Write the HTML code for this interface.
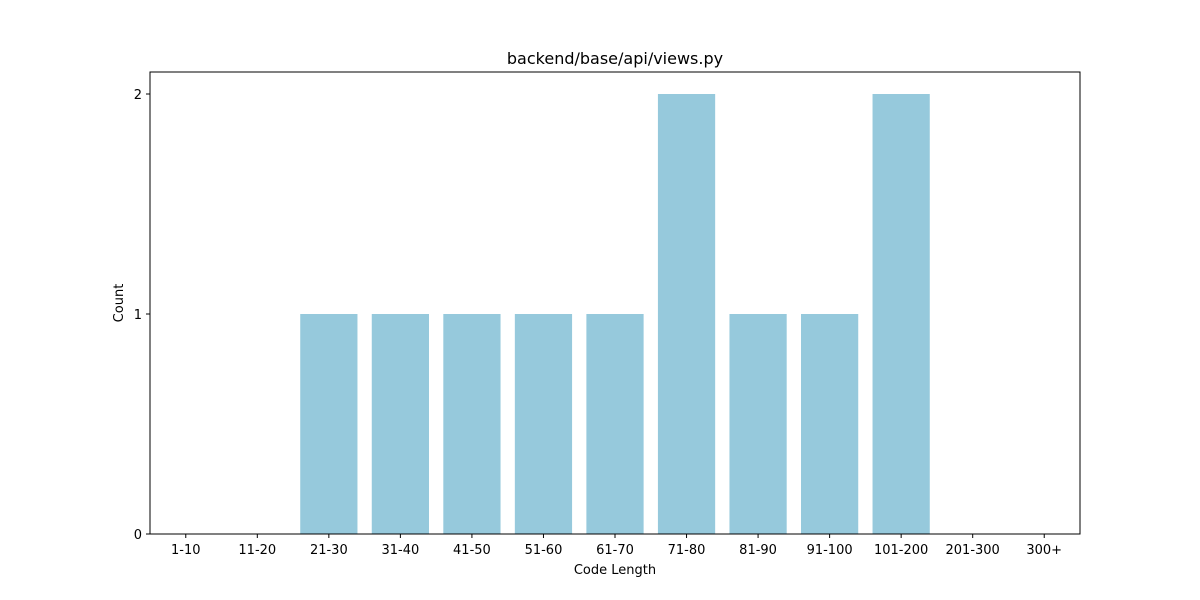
<!DOCTYPE html>
<html><head><meta charset="utf-8"><style>
html,body{margin:0;padding:0;background:#fff}
svg{display:block;font-family:"DejaVu Sans","Liberation Sans",sans-serif}
</style></head><body>
<svg id="chart" width="1200" height="600" viewBox="0 0 1200 600">
<rect width="1200" height="600" fill="#fff"/>
<text x="615" y="64" font-size="16" text-anchor="middle">backend/base/api/views.py</text>
<g id="bars"></g>
<g id="xticks"></g>
<g id="yticks"></g>
<rect x="150" y="72" width="930" height="462" fill="none" stroke="#000" stroke-width="1"/>
<text x="615" y="574" font-size="13" text-anchor="middle">Code Length</text>
<text x="123" y="303" font-size="13" text-anchor="middle" transform="rotate(-90 123 303)">Count</text>
</svg>
<script>
const categories = ["1-10","11-20","21-30","31-40","41-50","51-60","61-70","71-80","81-90","91-100","101-200","201-300","300+"];
const counts = [0,0,1,1,1,1,1,2,1,1,2,0,0];
const yTicks = [0,1,2];
const NS = "http://www.w3.org/2000/svg";
const L=150,R=1080,T=72,B=534,yMax=2.1;
const step=(R-L)/categories.length;
function xc(i){return L+(i+0.5)*step;}
function y(v){return B-(v/yMax)*(B-T);}
const bars=document.getElementById('bars'),xt=document.getElementById('xticks'),yt=document.getElementById('yticks');
categories.forEach((c,i)=>{
  const r=document.createElementNS(NS,'rect');
  const w=step*0.8;
  r.setAttribute('x',xc(i)-w/2);r.setAttribute('width',w);
  r.setAttribute('y',y(counts[i]));r.setAttribute('height',B-y(counts[i]));
  r.setAttribute('fill','#96c9dc');
  
  
  bars.appendChild(r);
  const l=document.createElementNS(NS,'line');
  l.setAttribute('x1',xc(i));l.setAttribute('x2',xc(i));l.setAttribute('y1',B);l.setAttribute('y2',B+4);l.setAttribute('stroke','#000');
  
  
  xt.appendChild(l);
  const t=document.createElementNS(NS,'text');
  t.setAttribute('x',xc(i));t.setAttribute('y',B+20);t.setAttribute('font-size','13');t.setAttribute('text-anchor','middle');
  t.textContent=c;
  
  
  xt.appendChild(t);
});
yTicks.forEach(v=>{
  const l=document.createElementNS(NS,'line');
  l.setAttribute('x1',L-4);l.setAttribute('x2',L);l.setAttribute('y1',y(v));l.setAttribute('y2',y(v));l.setAttribute('stroke','#000');
  
  
  yt.appendChild(l);
  const t=document.createElementNS(NS,'text');
  t.setAttribute('x',L-8);t.setAttribute('y',y(v)+5);t.setAttribute('font-size','13');t.setAttribute('text-anchor','end');
  t.textContent=v;
  
  
  yt.appendChild(t);
});
</script>
</body></html>
